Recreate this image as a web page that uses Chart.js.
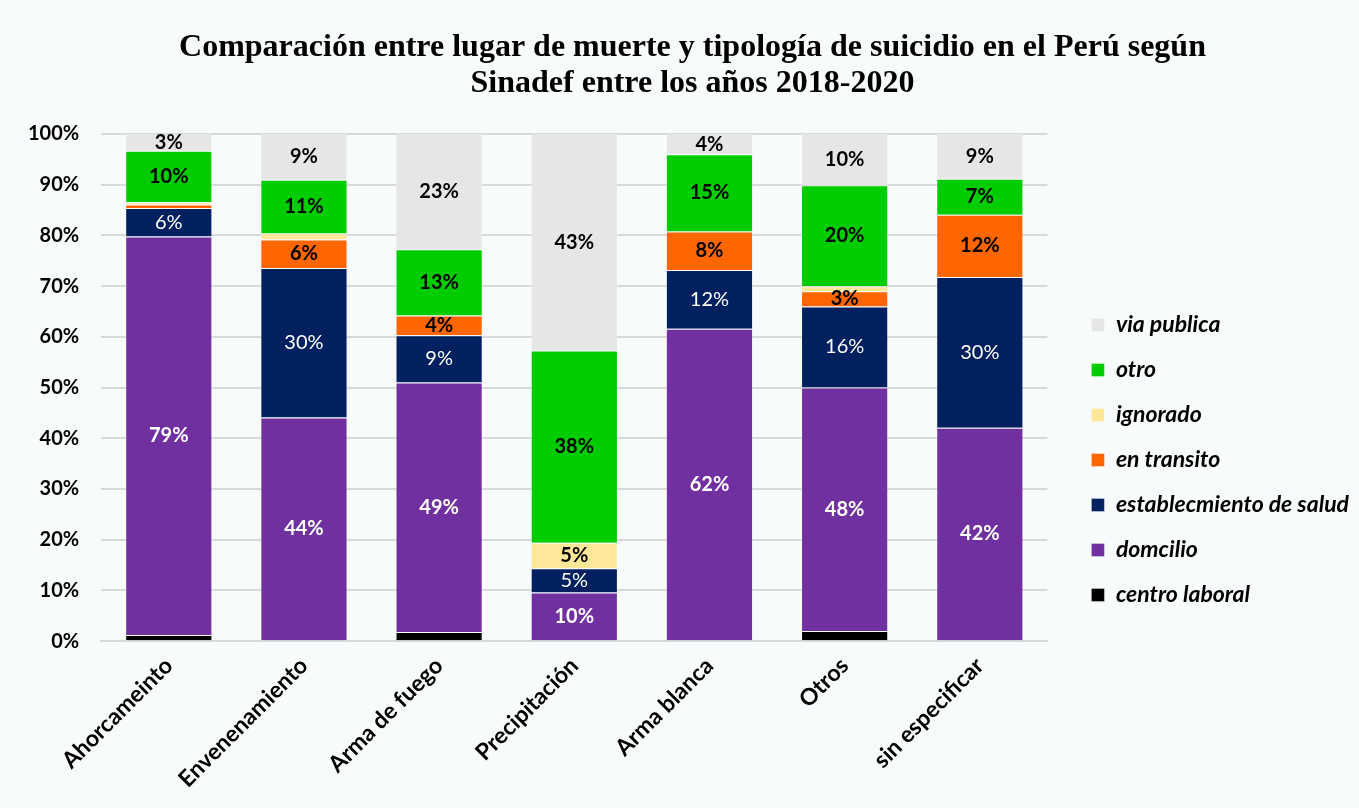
<!DOCTYPE html>
<html>
<head>
<meta charset="utf-8">
<script src="https://cdn.jsdelivr.net/npm/chart.js@4"></script>
<style>
  html, body { margin: 0; padding: 0; background: #f7fbfc; }
  #wrap { width: 1359px; height: 808px; }
</style>
</head>
<body>
<div id="wrap"><canvas id="chart" width="1359" height="808"></canvas></div>
<script>
const categories = ['Ahorcameinto', 'Envenenamiento', 'Arma de fuego', 'Precipitación', 'Arma blanca', 'Otros', 'sin especificar'];

// percentages, bottom of stack first
const centroLaboral = [1.2, 0, 1.8, 0, 0, 2.0, 0];
const domcilio      = [78.6, 44.1, 49.2, 9.6, 61.6, 48.0, 42.1];
const salud         = [5.6, 29.5, 9.3, 4.8, 11.6, 16.0, 29.7];
const enTransito    = [0.7, 5.6, 3.9, 0, 7.6, 3.0, 12.3];
const ignorado      = [0.5, 1.2, 0, 5.0, 0, 1.0, 0];
const otro          = [10.1, 10.6, 13.1, 37.9, 15.2, 19.9, 7.1];
const viaPublica    = [3.3, 9.0, 22.7, 42.7, 4.0, 10.1, 8.8];

const yTicks = [0, 10, 20, 30, 40, 50, 60, 70, 80, 90, 100];

const FONT = 'Lato, "Open Sans", sans-serif';

function ds(label, data, color, labelColor, labelWeight) {
  return {
    label: label,
    data: data,
    backgroundColor: color,
    borderColor: 'rgba(255,255,255,0.35)',
    borderWidth: 1,
    barPercentage: 0.645,
    categoryPercentage: 1.0,
    labelColor: labelColor,
    labelWeight: labelWeight
  };
}

// draws the % text in the middle of each segment
const segmentLabels = {
  id: 'segmentLabels',
  afterDatasetsDraw(chart) {
    const ctx = chart.ctx;
    ctx.save();
    ctx.textAlign = 'center';
    ctx.textBaseline = 'middle';
    chart.data.datasets.forEach((d, i) => {
      const meta = chart.getDatasetMeta(i);
      meta.data.forEach((bar, j) => {
        const v = d.data[j];
        if (v < 2.5) return;
        ctx.fillStyle = d.labelColor;
        ctx.font = d.labelWeight + ' 20px ' + FONT;
        ctx.fillText(Math.round(v) + '%', bar.x, (bar.y + bar.base) / 2);
      });
    });
    ctx.restore();
  }
};

// nudge legend right/down (wider gap after the plot) and re-centre the title
const boxShift = {
  id: 'boxShift',
  afterLayout(chart) {
    const lg = chart.legend;
    if (lg) {
      lg.left += 22; lg.right += 22;
      lg.top += 50; lg.bottom += 50;
    }
    const t = chart.titleBlock;
    if (t) { t.left += 21; t.right += 21; }
  }
};

const bg = {
  id: 'bg',
  beforeDraw(chart) {
    const ctx = chart.ctx;
    ctx.save();
    ctx.fillStyle = '#f7fbfc';
    ctx.fillRect(0, 0, chart.width, chart.height);
    ctx.restore();
  }
};

new Chart(document.getElementById('chart'), {
  type: 'bar',
  data: {
    labels: categories,
    datasets: [
      ds('centro laboral', centroLaboral, '#000000', '#ffffff', 'bold'),
      ds('domcilio', domcilio, '#7030a0', '#ffffff', 'bold'),
      ds('establecmiento de salud', salud, '#002060', '#ffffff', 'normal'),
      ds('en transito', enTransito, '#ff6600', '#000000', 'bold'),
      ds('ignorado', ignorado, '#ffe699', '#000000', 'bold'),
      ds('otro', otro, '#00cc00', '#000000', 'bold'),
      ds('via publica', viaPublica, '#e6e6e6', '#000000', 'bold')
    ]
  },
  options: {
    responsive: false,
    animation: false,
    layout: { padding: { left: 6, right: 22, top: 24, bottom: 12 } },
    plugins: {
      title: {
        display: true,
        text: ['Comparación entre lugar de muerte y tipología de suicidio en el Perú según', 'Sinadef entre los años 2018-2020'],
        color: '#000',
        font: { family: '"Liberation Serif", serif', size: 32, weight: 'bold', lineHeight: 1.125 },
        padding: { top: 6, bottom: 32 }
      },
      legend: {
        position: 'right',
        reverse: true,
        labels: {
          color: '#000',
          boxWidth: 13,
          boxHeight: 13,
          padding: 22,
          font: { family: FONT, size: 23, weight: 'bold', style: 'italic' }
        }
      },
      tooltip: { enabled: false }
    },
    scales: {
      x: {
        stacked: true,
        grid: { display: false },
        border: { color: '#d9d9d9', width: 2 },
        ticks: {
          color: '#000',
          maxRotation: 45,
          minRotation: 45,
          font: { family: FONT, size: 23, weight: 'bold' }
        }
      },
      y: {
        stacked: true,
        min: 0,
        max: 100,
        afterBuildTicks(axis) { axis.ticks = yTicks.map(v => ({ value: v })); },
        grid: { color: '#d9d9d9', lineWidth: 2, drawTicks: false },
        border: { display: false },
        ticks: {
          color: '#000',
          padding: 22,
          font: { family: FONT, size: 20, weight: 'bold' },
          callback: v => v + '%'
        }
      }
    }
  },
  plugins: [bg, segmentLabels, boxShift]
});
</script>
</body>
</html>
